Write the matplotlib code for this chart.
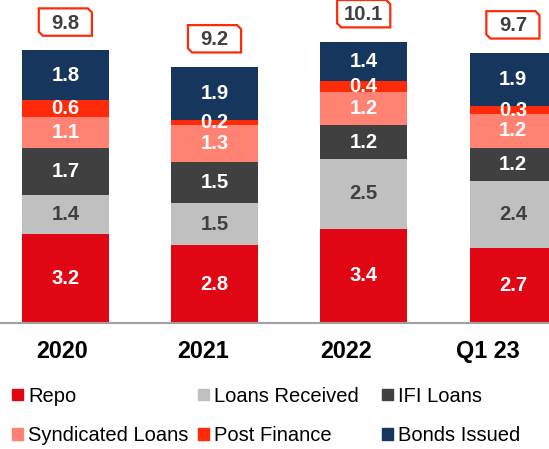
import matplotlib
matplotlib.use("Agg")
import matplotlib.pyplot as plt
from matplotlib.patches import Patch
from matplotlib.path import Path

plt.rcParams['font.family'] = ['Liberation Sans', 'DejaVu Sans']

categories = ["2020", "2021", "2022", "Q1 23"]
series_names = ["Repo", "Loans Received", "IFI Loans",
                "Syndicated Loans", "Post Finance", "Bonds Issued"]
repo = [3.2, 2.8, 3.4, 2.7]
loans_received = [1.4, 1.5, 2.5, 2.4]
ifi_loans = [1.7, 1.5, 1.2, 1.2]
syndicated = [1.1, 1.3, 1.2, 1.2]
post_finance = [0.6, 0.2, 0.4, 0.3]
bonds = [1.8, 1.9, 1.4, 1.9]
totals = [9.8, 9.2, 10.1, 9.7]

series = [repo, loans_received, ifi_loans, syndicated, post_finance, bonds]
colors = ["#E10613", "#C0C0C0", "#404040", "#FF8272", "#FF2A0A", "#17365D"]
label_colors = ["white", "#404040", "white", "white", "white", "white"]

# category labels sit a bit left of the bars in the original
label_pos = [-0.022, 0.926, 1.881, 2.833]


def snip_box(x0, y0, width, height, mutation_size):
    # box with top-right and bottom-left corners cut off
    w = 2.62 * mutation_size
    h = 1.35 * mutation_size
    cx = x0 + width / 2
    cy = y0 + height / 2 + 0.05 * mutation_size
    c = 0.2 * mutation_size
    l, r = cx - w / 2, cx + w / 2
    b, t = cy - h / 2, cy + h / 2
    verts = [(l, b + c), (l + c, b), (r, b), (r, t - c),
             (r - c, t), (l, t), (l, b + c)]
    return Path(verts, closed=True)


fig = plt.figure(figsize=(5.49, 4.49), dpi=100)
ax = fig.add_axes([0, 0.28, 1, 0.72])

x = range(len(categories))
bottom = [0] * len(categories)
for vals, col, lc in zip(series, colors, label_colors):
    bars = ax.bar(x, vals, width=0.58, bottom=bottom, color=col)
    for rect, v in zip(bars, vals):
        ax.text(rect.get_x() + rect.get_width() / 2,
                rect.get_y() + rect.get_height() / 2,
                f"{v:.1f}", ha="center", va="center",
                color=lc, fontsize=14.6, fontweight="bold")
    bottom = [b + v for b, v in zip(bottom, vals)]

for i, t in enumerate(totals):
    ax.annotate(f"{t:.1f}", (i, t), xytext=(0, 19.5),
                textcoords="offset points", ha="center", va="center",
                fontsize=14.6, fontweight="bold", color="#404040",
                bbox=dict(boxstyle=snip_box, fc="white",
                          ec="#FF2A0A", lw=1.6))

ax.set_xlim(-0.438, 3.242)
ax.set_ylim(0, 11.6)
ax.set_xticks(label_pos)
ax.set_xticklabels(categories, fontsize=16.8, fontweight="bold")
ax.tick_params(axis="x", length=0, pad=12)
ax.set_yticks([])
for s in ["top", "left", "right"]:
    ax.spines[s].set_visible(False)
ax.spines["bottom"].set_color("#A0A0A0")
ax.spines["bottom"].set_linewidth(1.5)

handles = [Patch(color=c) for c in colors]
# legend laid out row by row, three columns
col_x = [0.0219, 0.3607, 0.6958]
for j in range(3):
    idx = [j, j + 3]
    leg = fig.legend([handles[k] for k in idx], [series_names[k] for k in idx],
                     loc="upper left", bbox_to_anchor=(col_x[j], 0.139),
                     frameon=False, fontsize=14.5, borderpad=0,
                     borderaxespad=0, handlelength=0.53, handleheight=0.53,
                     handletextpad=0.28, labelspacing=1.02)

fig.savefig("out.png", dpi=100)
